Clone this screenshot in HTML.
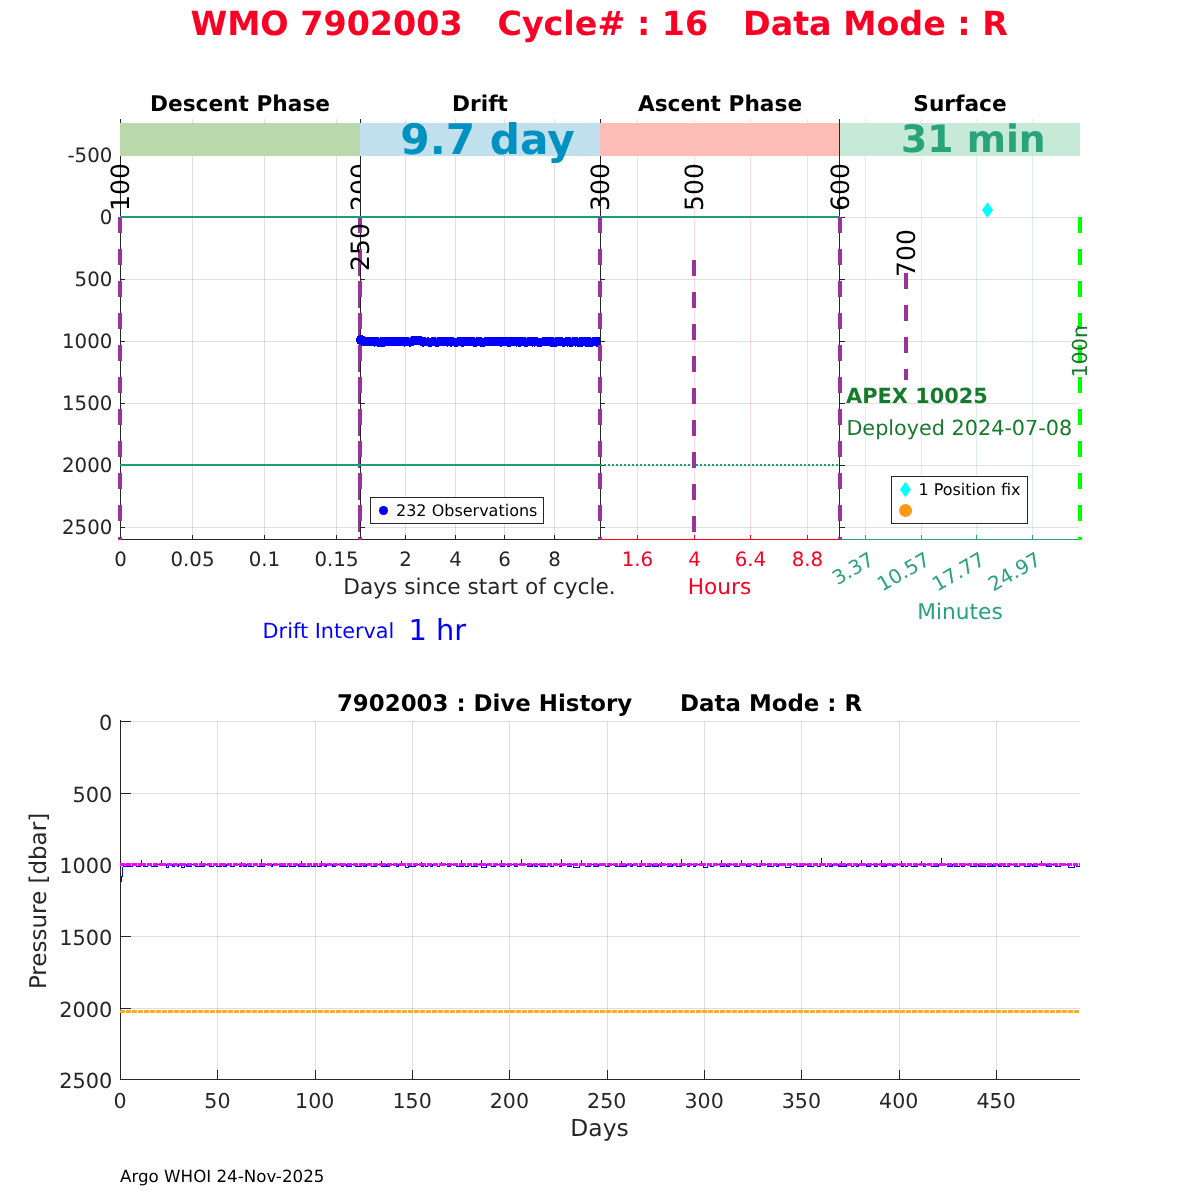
<!DOCTYPE html>
<html lang="en"><head><meta charset="utf-8"><title>WMO 7902003 Cycle 16</title>
<style>
html,body{margin:0;padding:0;background:#fff;overflow:hidden;}
svg{display:block;font-family:"DejaVu Sans", "Liberation Sans", sans-serif;}
text{white-space:pre;}
</style></head><body>
<svg width="1200" height="1200" viewBox="0 0 1200 1200" shape-rendering="crispEdges" text-rendering="geometricPrecision">
<rect width="1200" height="1200" fill="#fff"/>
<text x="599.2" y="34.5" font-size="33.33" fill="#f90024" text-anchor="middle" font-weight="bold" >WMO 7902003   Cycle# : 16   Data Mode : R</text>
<line x1="120.5" y1="119" x2="120.5" y2="540" stroke="rgba(38,38,38,0.15)" stroke-width="1" />
<line x1="192.5" y1="119" x2="192.5" y2="540" stroke="rgba(38,38,38,0.15)" stroke-width="1" />
<line x1="264.5" y1="119" x2="264.5" y2="540" stroke="rgba(38,38,38,0.15)" stroke-width="1" />
<line x1="336.5" y1="119" x2="336.5" y2="540" stroke="rgba(38,38,38,0.15)" stroke-width="1" />
<line x1="120" y1="155.5" x2="359" y2="155.5" stroke="rgba(38,38,38,0.15)" stroke-width="1" />
<line x1="120" y1="217.5" x2="359" y2="217.5" stroke="rgba(38,38,38,0.15)" stroke-width="1" />
<line x1="120" y1="279.5" x2="359" y2="279.5" stroke="rgba(38,38,38,0.15)" stroke-width="1" />
<line x1="120" y1="341.5" x2="359" y2="341.5" stroke="rgba(38,38,38,0.15)" stroke-width="1" />
<line x1="120" y1="403.5" x2="359" y2="403.5" stroke="rgba(38,38,38,0.15)" stroke-width="1" />
<line x1="120" y1="465.5" x2="359" y2="465.5" stroke="rgba(38,38,38,0.15)" stroke-width="1" />
<line x1="120" y1="527.5" x2="359" y2="527.5" stroke="rgba(38,38,38,0.15)" stroke-width="1" />
<line x1="405.5" y1="119" x2="405.5" y2="540" stroke="rgba(38,38,38,0.15)" stroke-width="1" />
<line x1="455.5" y1="119" x2="455.5" y2="540" stroke="rgba(38,38,38,0.15)" stroke-width="1" />
<line x1="504.5" y1="119" x2="504.5" y2="540" stroke="rgba(38,38,38,0.15)" stroke-width="1" />
<line x1="554.5" y1="119" x2="554.5" y2="540" stroke="rgba(38,38,38,0.15)" stroke-width="1" />
<line x1="360" y1="155.5" x2="599" y2="155.5" stroke="rgba(38,38,38,0.15)" stroke-width="1" />
<line x1="360" y1="217.5" x2="599" y2="217.5" stroke="rgba(38,38,38,0.15)" stroke-width="1" />
<line x1="360" y1="279.5" x2="599" y2="279.5" stroke="rgba(38,38,38,0.15)" stroke-width="1" />
<line x1="360" y1="341.5" x2="599" y2="341.5" stroke="rgba(38,38,38,0.15)" stroke-width="1" />
<line x1="360" y1="403.5" x2="599" y2="403.5" stroke="rgba(38,38,38,0.15)" stroke-width="1" />
<line x1="360" y1="465.5" x2="599" y2="465.5" stroke="rgba(38,38,38,0.15)" stroke-width="1" />
<line x1="360" y1="527.5" x2="599" y2="527.5" stroke="rgba(38,38,38,0.15)" stroke-width="1" />
<line x1="637.5" y1="119" x2="637.5" y2="540" stroke="rgba(246,0,40,0.15)" stroke-width="1" />
<line x1="694.5" y1="119" x2="694.5" y2="540" stroke="rgba(246,0,40,0.15)" stroke-width="1" />
<line x1="750.5" y1="119" x2="750.5" y2="540" stroke="rgba(246,0,40,0.15)" stroke-width="1" />
<line x1="807.5" y1="119" x2="807.5" y2="540" stroke="rgba(246,0,40,0.15)" stroke-width="1" />
<line x1="600" y1="155.5" x2="839" y2="155.5" stroke="rgba(38,38,38,0.15)" stroke-width="1" />
<line x1="600" y1="217.5" x2="839" y2="217.5" stroke="rgba(38,38,38,0.15)" stroke-width="1" />
<line x1="600" y1="279.5" x2="839" y2="279.5" stroke="rgba(38,38,38,0.15)" stroke-width="1" />
<line x1="600" y1="341.5" x2="839" y2="341.5" stroke="rgba(38,38,38,0.15)" stroke-width="1" />
<line x1="600" y1="403.5" x2="839" y2="403.5" stroke="rgba(38,38,38,0.15)" stroke-width="1" />
<line x1="600" y1="465.5" x2="839" y2="465.5" stroke="rgba(38,38,38,0.15)" stroke-width="1" />
<line x1="600" y1="527.5" x2="839" y2="527.5" stroke="rgba(38,38,38,0.15)" stroke-width="1" />
<line x1="865.5" y1="119" x2="865.5" y2="540" stroke="rgba(40,163,123,0.16)" stroke-width="1" />
<line x1="921.5" y1="119" x2="921.5" y2="540" stroke="rgba(40,163,123,0.16)" stroke-width="1" />
<line x1="976.5" y1="119" x2="976.5" y2="540" stroke="rgba(40,163,123,0.16)" stroke-width="1" />
<line x1="1032.5" y1="119" x2="1032.5" y2="540" stroke="rgba(40,163,123,0.16)" stroke-width="1" />
<line x1="840" y1="155.5" x2="1079" y2="155.5" stroke="rgba(38,38,38,0.15)" stroke-width="1" />
<line x1="840" y1="217.5" x2="1079" y2="217.5" stroke="rgba(38,38,38,0.15)" stroke-width="1" />
<line x1="840" y1="279.5" x2="1079" y2="279.5" stroke="rgba(38,38,38,0.15)" stroke-width="1" />
<line x1="840" y1="341.5" x2="1079" y2="341.5" stroke="rgba(38,38,38,0.15)" stroke-width="1" />
<line x1="840" y1="403.5" x2="1079" y2="403.5" stroke="rgba(38,38,38,0.15)" stroke-width="1" />
<line x1="840" y1="465.5" x2="1079" y2="465.5" stroke="rgba(38,38,38,0.15)" stroke-width="1" />
<line x1="840" y1="527.5" x2="1079" y2="527.5" stroke="rgba(38,38,38,0.15)" stroke-width="1" />
<rect x="120" y="123" width="240" height="33" fill="#b9d9ac" />
<rect x="360" y="123" width="240" height="33" fill="#bfe0ec" />
<rect x="600" y="123" width="240" height="33" fill="#fcbdb6" />
<rect x="840" y="123" width="240" height="33" fill="#c7e9d7" />
<line x1="120.5" y1="119" x2="120.5" y2="540" stroke="#262626" stroke-width="1" />
<line x1="120.5" y1="155.5" x2="125" y2="155.5" stroke="#262626" stroke-width="1" />
<line x1="120.5" y1="217.5" x2="125" y2="217.5" stroke="#262626" stroke-width="1" />
<line x1="120.5" y1="279.5" x2="125" y2="279.5" stroke="#262626" stroke-width="1" />
<line x1="120.5" y1="341.5" x2="125" y2="341.5" stroke="#262626" stroke-width="1" />
<line x1="120.5" y1="403.5" x2="125" y2="403.5" stroke="#262626" stroke-width="1" />
<line x1="120.5" y1="465.5" x2="125" y2="465.5" stroke="#262626" stroke-width="1" />
<line x1="120.5" y1="527.5" x2="125" y2="527.5" stroke="#262626" stroke-width="1" />
<line x1="120" y1="539.5" x2="360" y2="539.5" stroke="#262626" stroke-width="1" />
<line x1="120.5" y1="539.5" x2="120.5" y2="534.5" stroke="#262626" stroke-width="1" />
<line x1="192.5" y1="539.5" x2="192.5" y2="534.5" stroke="#262626" stroke-width="1" />
<line x1="264.5" y1="539.5" x2="264.5" y2="534.5" stroke="#262626" stroke-width="1" />
<line x1="336.5" y1="539.5" x2="336.5" y2="534.5" stroke="#262626" stroke-width="1" />
<line x1="360.5" y1="119" x2="360.5" y2="540" stroke="#262626" stroke-width="1" />
<line x1="360.5" y1="155.5" x2="365" y2="155.5" stroke="#262626" stroke-width="1" />
<line x1="360.5" y1="217.5" x2="365" y2="217.5" stroke="#262626" stroke-width="1" />
<line x1="360.5" y1="279.5" x2="365" y2="279.5" stroke="#262626" stroke-width="1" />
<line x1="360.5" y1="341.5" x2="365" y2="341.5" stroke="#262626" stroke-width="1" />
<line x1="360.5" y1="403.5" x2="365" y2="403.5" stroke="#262626" stroke-width="1" />
<line x1="360.5" y1="465.5" x2="365" y2="465.5" stroke="#262626" stroke-width="1" />
<line x1="360.5" y1="527.5" x2="365" y2="527.5" stroke="#262626" stroke-width="1" />
<line x1="360" y1="539.5" x2="600" y2="539.5" stroke="#262626" stroke-width="1" />
<line x1="405.5" y1="539.5" x2="405.5" y2="534.5" stroke="#262626" stroke-width="1" />
<line x1="455.5" y1="539.5" x2="455.5" y2="534.5" stroke="#262626" stroke-width="1" />
<line x1="504.5" y1="539.5" x2="504.5" y2="534.5" stroke="#262626" stroke-width="1" />
<line x1="554.5" y1="539.5" x2="554.5" y2="534.5" stroke="#262626" stroke-width="1" />
<line x1="600.5" y1="119" x2="600.5" y2="540" stroke="#262626" stroke-width="1" />
<line x1="600.5" y1="155.5" x2="605" y2="155.5" stroke="#262626" stroke-width="1" />
<line x1="600.5" y1="217.5" x2="605" y2="217.5" stroke="#262626" stroke-width="1" />
<line x1="600.5" y1="279.5" x2="605" y2="279.5" stroke="#262626" stroke-width="1" />
<line x1="600.5" y1="341.5" x2="605" y2="341.5" stroke="#262626" stroke-width="1" />
<line x1="600.5" y1="403.5" x2="605" y2="403.5" stroke="#262626" stroke-width="1" />
<line x1="600.5" y1="465.5" x2="605" y2="465.5" stroke="#262626" stroke-width="1" />
<line x1="600.5" y1="527.5" x2="605" y2="527.5" stroke="#262626" stroke-width="1" />
<line x1="600" y1="539.5" x2="840" y2="539.5" stroke="#f90024" stroke-width="1" />
<line x1="637.5" y1="539.5" x2="637.5" y2="534.5" stroke="#f90024" stroke-width="1" />
<line x1="694.5" y1="539.5" x2="694.5" y2="534.5" stroke="#f90024" stroke-width="1" />
<line x1="750.5" y1="539.5" x2="750.5" y2="534.5" stroke="#f90024" stroke-width="1" />
<line x1="807.5" y1="539.5" x2="807.5" y2="534.5" stroke="#f90024" stroke-width="1" />
<line x1="839.5" y1="119" x2="839.5" y2="540" stroke="#262626" stroke-width="1" />
<line x1="839.5" y1="155.5" x2="845" y2="155.5" stroke="#262626" stroke-width="1" />
<line x1="839.5" y1="217.5" x2="845" y2="217.5" stroke="#262626" stroke-width="1" />
<line x1="839.5" y1="279.5" x2="845" y2="279.5" stroke="#262626" stroke-width="1" />
<line x1="839.5" y1="341.5" x2="845" y2="341.5" stroke="#262626" stroke-width="1" />
<line x1="839.5" y1="403.5" x2="845" y2="403.5" stroke="#262626" stroke-width="1" />
<line x1="839.5" y1="465.5" x2="845" y2="465.5" stroke="#262626" stroke-width="1" />
<line x1="839.5" y1="527.5" x2="845" y2="527.5" stroke="#262626" stroke-width="1" />
<line x1="840" y1="539.5" x2="1080" y2="539.5" stroke="#28a37b" stroke-width="1" />
<line x1="865.5" y1="539.5" x2="865.5" y2="534.5" stroke="#28a37b" stroke-width="1" />
<line x1="921.5" y1="539.5" x2="921.5" y2="534.5" stroke="#28a37b" stroke-width="1" />
<line x1="976.5" y1="539.5" x2="976.5" y2="534.5" stroke="#28a37b" stroke-width="1" />
<line x1="1032.5" y1="539.5" x2="1032.5" y2="534.5" stroke="#28a37b" stroke-width="1" />
<rect x="120" y="123" width="240" height="33" fill="#b9d9ac" />
<rect x="360" y="123" width="240" height="33" fill="#bfe0ec" />
<rect x="600" y="123" width="240" height="33" fill="#fcbdb6" />
<rect x="840" y="123" width="240" height="33" fill="#c7e9d7" />
<line x1="839.5" y1="119" x2="839.5" y2="156" stroke="#262626" stroke-width="1" />
<text x="240" y="111" font-size="21.7" fill="#000" text-anchor="middle" font-weight="bold" >Descent Phase</text>
<text x="480" y="111" font-size="21.7" fill="#000" text-anchor="middle" font-weight="bold" >Drift</text>
<text x="720" y="111" font-size="21.7" fill="#000" text-anchor="middle" font-weight="bold" >Ascent Phase</text>
<text x="960" y="111" font-size="21.7" fill="#000" text-anchor="middle" font-weight="bold" >Surface</text>
<text x="487.5" y="154.3" font-size="42.2" fill="#0091c0" text-anchor="middle" font-weight="bold" >9.7 day</text>
<text x="973.4" y="152.3" font-size="37.7" fill="#28a37b" text-anchor="middle" font-weight="bold" >31 min</text>
<text x="112.3" y="161.5" font-size="19.75" fill="#262626" text-anchor="end" >-500</text>
<text x="112.3" y="223.5" font-size="19.75" fill="#262626" text-anchor="end" >0</text>
<text x="112.3" y="285.5" font-size="19.75" fill="#262626" text-anchor="end" >500</text>
<text x="112.3" y="347.5" font-size="19.75" fill="#262626" text-anchor="end" >1000</text>
<text x="112.3" y="409.5" font-size="19.75" fill="#262626" text-anchor="end" >1500</text>
<text x="112.3" y="471.5" font-size="19.75" fill="#262626" text-anchor="end" >2000</text>
<text x="112.3" y="533.5" font-size="19.75" fill="#262626" text-anchor="end" >2500</text>
<text x="120.5" y="566" font-size="19.75" fill="#262626" text-anchor="middle" >0</text>
<text x="192.5" y="566" font-size="19.75" fill="#262626" text-anchor="middle" >0.05</text>
<text x="264.5" y="566" font-size="19.75" fill="#262626" text-anchor="middle" >0.1</text>
<text x="336.5" y="566" font-size="19.75" fill="#262626" text-anchor="middle" >0.15</text>
<text x="405.5" y="566" font-size="19.75" fill="#262626" text-anchor="middle" >2</text>
<text x="455.5" y="566" font-size="19.75" fill="#262626" text-anchor="middle" >4</text>
<text x="504.5" y="566" font-size="19.75" fill="#262626" text-anchor="middle" >6</text>
<text x="554.5" y="566" font-size="19.75" fill="#262626" text-anchor="middle" >8</text>
<text x="637.5" y="566" font-size="19.75" fill="#f90024" text-anchor="middle" >1.6</text>
<text x="694.5" y="566" font-size="19.75" fill="#f90024" text-anchor="middle" >4</text>
<text x="750.5" y="566" font-size="19.75" fill="#f90024" text-anchor="middle" >6.4</text>
<text x="807.5" y="566" font-size="19.75" fill="#f90024" text-anchor="middle" >8.8</text>
<text transform="translate(875.3 563.5) rotate(-30)" font-size="19.75" fill="#28a37b" text-anchor="end" >3.37</text>
<text transform="translate(931.3 563.5) rotate(-30)" font-size="19.75" fill="#28a37b" text-anchor="end" >10.57</text>
<text transform="translate(986.3 563.5) rotate(-30)" font-size="19.75" fill="#28a37b" text-anchor="end" >17.77</text>
<text transform="translate(1042.3 563.5) rotate(-30)" font-size="19.75" fill="#28a37b" text-anchor="end" >24.97</text>
<text x="479.5" y="594" font-size="21.7" fill="#262626" text-anchor="middle" >Days since start of cycle.</text>
<text x="719.5" y="594" font-size="21.7" fill="#f90024" text-anchor="middle" >Hours</text>
<text x="960" y="619" font-size="21.7" fill="#28a37b" text-anchor="middle" >Minutes</text>
<text x="262.6" y="637.7" font-size="20.8" fill="#0000ff" text-anchor="start" >Drift Interval</text>
<text x="408.4" y="640.3" font-size="28.9" fill="#0000ff" text-anchor="start" >1 hr</text>
<rect x="118" y="217" width="4" height="16" fill="#993399" />
<rect x="118" y="249" width="4" height="16" fill="#993399" />
<rect x="118" y="281" width="4" height="16" fill="#993399" />
<rect x="118" y="313" width="4" height="16" fill="#993399" />
<rect x="118" y="345" width="4" height="16" fill="#993399" />
<rect x="118" y="377" width="4" height="16" fill="#993399" />
<rect x="118" y="409" width="4" height="16" fill="#993399" />
<rect x="118" y="441" width="4" height="16" fill="#993399" />
<rect x="118" y="473" width="4" height="16" fill="#993399" />
<rect x="118" y="505" width="4" height="16" fill="#993399" />
<rect x="118" y="537" width="4" height="3" fill="#993399" />
<rect x="358" y="217" width="4" height="16" fill="#993399" />
<rect x="358" y="249" width="4" height="16" fill="#993399" />
<rect x="358" y="281" width="4" height="16" fill="#993399" />
<rect x="358" y="313" width="4" height="16" fill="#993399" />
<rect x="358" y="345" width="4" height="16" fill="#993399" />
<rect x="358" y="377" width="4" height="16" fill="#993399" />
<rect x="358" y="409" width="4" height="16" fill="#993399" />
<rect x="358" y="441" width="4" height="16" fill="#993399" />
<rect x="358" y="473" width="4" height="16" fill="#993399" />
<rect x="358" y="505" width="4" height="16" fill="#993399" />
<rect x="358" y="537" width="4" height="3" fill="#993399" />
<rect x="358" y="259.5" width="2" height="16" fill="#993399" />
<rect x="358" y="291.5" width="2" height="16" fill="#993399" />
<rect x="358" y="323.5" width="2" height="16" fill="#993399" />
<rect x="358" y="355.5" width="2" height="16" fill="#993399" />
<rect x="358" y="387.5" width="2" height="16" fill="#993399" />
<rect x="358" y="419.5" width="2" height="16" fill="#993399" />
<rect x="358" y="451.5" width="2" height="16" fill="#993399" />
<rect x="358" y="483.5" width="2" height="16" fill="#993399" />
<rect x="358" y="515.5" width="2" height="16" fill="#993399" />
<line x1="120" y1="217" x2="840" y2="217" stroke="#1b9e77" stroke-width="2" />
<line x1="120" y1="465" x2="602" y2="465" stroke="#1b9e77" stroke-width="2" />
<line x1="604" y1="465" x2="840" y2="465" stroke="#1b9e77" stroke-width="2" stroke-dasharray="2 2"/>
<clipPath id="cdrift"><rect x="340" y="300" width="260" height="80"/></clipPath>
<g fill="#0000ff" clip-path="url(#cdrift)">
<circle cx="361.0" cy="340.0" r="5"/>
<circle cx="362.0" cy="341.3" r="4.4"/>
<circle cx="363.1" cy="342.0" r="4.4"/>
<circle cx="364.1" cy="341.2" r="4.4"/>
<circle cx="365.1" cy="341.9" r="4.4"/>
<circle cx="366.2" cy="341.6" r="4.4"/>
<circle cx="367.2" cy="341.2" r="4.4"/>
<circle cx="368.3" cy="341.8" r="4.4"/>
<circle cx="369.3" cy="341.2" r="4.4"/>
<circle cx="370.3" cy="341.7" r="4.4"/>
<circle cx="371.4" cy="341.2" r="4.4"/>
<circle cx="372.4" cy="341.2" r="4.4"/>
<circle cx="373.4" cy="341.7" r="4.4"/>
<circle cx="374.5" cy="342.3" r="4.4"/>
<circle cx="375.5" cy="341.3" r="4.4"/>
<circle cx="376.6" cy="341.4" r="4.4"/>
<circle cx="377.6" cy="342.0" r="4.4"/>
<circle cx="378.6" cy="342.4" r="4.4"/>
<circle cx="379.7" cy="341.9" r="4.4"/>
<circle cx="380.7" cy="341.7" r="4.4"/>
<circle cx="381.7" cy="342.5" r="4.4"/>
<circle cx="382.8" cy="341.2" r="4.4"/>
<circle cx="383.8" cy="342.3" r="4.4"/>
<circle cx="384.8" cy="341.5" r="4.4"/>
<circle cx="385.9" cy="341.3" r="4.4"/>
<circle cx="386.9" cy="341.3" r="4.4"/>
<circle cx="388.0" cy="341.5" r="4.4"/>
<circle cx="389.0" cy="342.2" r="4.4"/>
<circle cx="390.0" cy="341.4" r="4.4"/>
<circle cx="391.1" cy="341.9" r="4.4"/>
<circle cx="392.1" cy="342.0" r="4.4"/>
<circle cx="393.1" cy="341.6" r="4.4"/>
<circle cx="394.2" cy="341.9" r="4.4"/>
<circle cx="395.2" cy="341.2" r="4.4"/>
<circle cx="396.3" cy="341.2" r="4.4"/>
<circle cx="397.3" cy="341.4" r="4.4"/>
<circle cx="398.3" cy="342.1" r="4.4"/>
<circle cx="399.4" cy="341.7" r="4.4"/>
<circle cx="400.4" cy="341.5" r="4.4"/>
<circle cx="401.4" cy="341.9" r="4.4"/>
<circle cx="402.5" cy="341.7" r="4.4"/>
<circle cx="403.5" cy="341.5" r="4.4"/>
<circle cx="404.5" cy="342.2" r="4.4"/>
<circle cx="405.6" cy="342.1" r="4.4"/>
<circle cx="406.6" cy="341.4" r="4.4"/>
<circle cx="407.7" cy="341.9" r="4.4"/>
<circle cx="408.7" cy="341.8" r="4.4"/>
<circle cx="409.7" cy="342.3" r="4.4"/>
<circle cx="410.8" cy="342.1" r="4.4"/>
<circle cx="411.8" cy="341.5" r="4.4"/>
<circle cx="412.8" cy="341.2" r="4.4"/>
<circle cx="413.9" cy="340.0" r="4.4"/>
<circle cx="414.9" cy="340.4" r="4.4"/>
<circle cx="416.0" cy="340.9" r="4.4"/>
<circle cx="417.0" cy="340.0" r="4.4"/>
<circle cx="418.0" cy="340.5" r="4.4"/>
<circle cx="419.1" cy="339.9" r="4.4"/>
<circle cx="420.1" cy="340.7" r="4.4"/>
<circle cx="421.1" cy="340.9" r="4.4"/>
<circle cx="422.2" cy="341.9" r="4.4"/>
<circle cx="423.2" cy="342.3" r="4.4"/>
<circle cx="424.2" cy="341.5" r="4.4"/>
<circle cx="425.3" cy="342.1" r="4.4"/>
<circle cx="426.3" cy="341.9" r="4.4"/>
<circle cx="427.4" cy="341.9" r="4.4"/>
<circle cx="428.4" cy="341.7" r="4.4"/>
<circle cx="429.4" cy="342.3" r="4.4"/>
<circle cx="430.5" cy="342.4" r="4.4"/>
<circle cx="431.5" cy="341.8" r="4.4"/>
<circle cx="432.5" cy="342.0" r="4.4"/>
<circle cx="433.6" cy="341.2" r="4.4"/>
<circle cx="434.6" cy="342.1" r="4.4"/>
<circle cx="435.6" cy="342.0" r="4.4"/>
<circle cx="436.7" cy="342.5" r="4.4"/>
<circle cx="437.7" cy="342.3" r="4.4"/>
<circle cx="438.8" cy="341.5" r="4.4"/>
<circle cx="439.8" cy="341.6" r="4.4"/>
<circle cx="440.8" cy="342.0" r="4.4"/>
<circle cx="441.9" cy="341.1" r="4.4"/>
<circle cx="442.9" cy="341.7" r="4.4"/>
<circle cx="443.9" cy="341.3" r="4.4"/>
<circle cx="445.0" cy="341.3" r="4.4"/>
<circle cx="446.0" cy="341.2" r="4.4"/>
<circle cx="447.1" cy="342.2" r="4.4"/>
<circle cx="448.1" cy="341.3" r="4.4"/>
<circle cx="449.1" cy="341.4" r="4.4"/>
<circle cx="450.2" cy="341.6" r="4.4"/>
<circle cx="451.2" cy="342.3" r="4.4"/>
<circle cx="452.2" cy="341.2" r="4.4"/>
<circle cx="453.3" cy="341.7" r="4.4"/>
<circle cx="454.3" cy="341.9" r="4.4"/>
<circle cx="455.3" cy="342.3" r="4.4"/>
<circle cx="456.4" cy="342.2" r="4.4"/>
<circle cx="457.4" cy="342.3" r="4.4"/>
<circle cx="458.5" cy="341.5" r="4.4"/>
<circle cx="459.5" cy="341.7" r="4.4"/>
<circle cx="460.5" cy="341.6" r="4.4"/>
<circle cx="461.6" cy="342.3" r="4.4"/>
<circle cx="462.6" cy="342.4" r="4.4"/>
<circle cx="463.6" cy="341.3" r="4.4"/>
<circle cx="464.7" cy="341.3" r="4.4"/>
<circle cx="465.7" cy="341.4" r="4.4"/>
<circle cx="466.8" cy="341.4" r="4.4"/>
<circle cx="467.8" cy="341.8" r="4.4"/>
<circle cx="468.8" cy="341.9" r="4.4"/>
<circle cx="469.9" cy="341.5" r="4.4"/>
<circle cx="470.9" cy="341.1" r="4.4"/>
<circle cx="471.9" cy="341.7" r="4.4"/>
<circle cx="473.0" cy="341.6" r="4.4"/>
<circle cx="474.0" cy="341.9" r="4.4"/>
<circle cx="475.0" cy="342.4" r="4.4"/>
<circle cx="476.1" cy="342.1" r="4.4"/>
<circle cx="477.1" cy="341.8" r="4.4"/>
<circle cx="478.2" cy="342.0" r="4.4"/>
<circle cx="479.2" cy="342.0" r="4.4"/>
<circle cx="480.2" cy="341.2" r="4.4"/>
<circle cx="481.3" cy="342.4" r="4.4"/>
<circle cx="482.3" cy="342.2" r="4.4"/>
<circle cx="483.3" cy="342.3" r="4.4"/>
<circle cx="484.4" cy="342.2" r="4.4"/>
<circle cx="485.4" cy="341.6" r="4.4"/>
<circle cx="486.5" cy="341.7" r="4.4"/>
<circle cx="487.5" cy="341.2" r="4.4"/>
<circle cx="488.5" cy="342.0" r="4.4"/>
<circle cx="489.6" cy="341.2" r="4.4"/>
<circle cx="490.6" cy="341.2" r="4.4"/>
<circle cx="491.6" cy="341.4" r="4.4"/>
<circle cx="492.7" cy="341.3" r="4.4"/>
<circle cx="493.7" cy="341.6" r="4.4"/>
<circle cx="494.7" cy="341.2" r="4.4"/>
<circle cx="495.8" cy="341.1" r="4.4"/>
<circle cx="496.8" cy="341.3" r="4.4"/>
<circle cx="497.9" cy="341.2" r="4.4"/>
<circle cx="498.9" cy="341.6" r="4.4"/>
<circle cx="499.9" cy="341.1" r="4.4"/>
<circle cx="501.0" cy="342.3" r="4.4"/>
<circle cx="502.0" cy="342.0" r="4.4"/>
<circle cx="503.0" cy="341.3" r="4.4"/>
<circle cx="504.1" cy="341.5" r="4.4"/>
<circle cx="505.1" cy="341.6" r="4.4"/>
<circle cx="506.2" cy="341.6" r="4.4"/>
<circle cx="507.2" cy="341.3" r="4.4"/>
<circle cx="508.2" cy="342.3" r="4.4"/>
<circle cx="509.3" cy="342.5" r="4.4"/>
<circle cx="510.3" cy="341.8" r="4.4"/>
<circle cx="511.3" cy="341.8" r="4.4"/>
<circle cx="512.4" cy="341.2" r="4.4"/>
<circle cx="513.4" cy="341.2" r="4.4"/>
<circle cx="514.4" cy="341.6" r="4.4"/>
<circle cx="515.5" cy="341.5" r="4.4"/>
<circle cx="516.5" cy="342.3" r="4.4"/>
<circle cx="517.6" cy="341.3" r="4.4"/>
<circle cx="518.6" cy="341.1" r="4.4"/>
<circle cx="519.6" cy="342.4" r="4.4"/>
<circle cx="520.7" cy="341.8" r="4.4"/>
<circle cx="521.7" cy="341.3" r="4.4"/>
<circle cx="522.7" cy="341.9" r="4.4"/>
<circle cx="523.8" cy="341.1" r="4.4"/>
<circle cx="524.8" cy="341.8" r="4.4"/>
<circle cx="525.9" cy="342.5" r="4.4"/>
<circle cx="526.9" cy="342.3" r="4.4"/>
<circle cx="527.9" cy="342.1" r="4.4"/>
<circle cx="529.0" cy="341.5" r="4.4"/>
<circle cx="530.0" cy="341.6" r="4.4"/>
<circle cx="531.0" cy="341.3" r="4.4"/>
<circle cx="532.1" cy="342.2" r="4.4"/>
<circle cx="533.1" cy="341.8" r="4.4"/>
<circle cx="534.1" cy="342.2" r="4.4"/>
<circle cx="535.2" cy="341.6" r="4.4"/>
<circle cx="536.2" cy="341.4" r="4.4"/>
<circle cx="537.3" cy="342.2" r="4.4"/>
<circle cx="538.3" cy="342.5" r="4.4"/>
<circle cx="539.3" cy="342.3" r="4.4"/>
<circle cx="540.4" cy="342.2" r="4.4"/>
<circle cx="541.4" cy="342.2" r="4.4"/>
<circle cx="542.4" cy="342.1" r="4.4"/>
<circle cx="543.5" cy="341.4" r="4.4"/>
<circle cx="544.5" cy="341.8" r="4.4"/>
<circle cx="545.5" cy="341.6" r="4.4"/>
<circle cx="546.6" cy="341.1" r="4.4"/>
<circle cx="547.6" cy="341.1" r="4.4"/>
<circle cx="548.7" cy="341.5" r="4.4"/>
<circle cx="549.7" cy="341.5" r="4.4"/>
<circle cx="550.7" cy="342.1" r="4.4"/>
<circle cx="551.8" cy="342.4" r="4.4"/>
<circle cx="552.8" cy="341.7" r="4.4"/>
<circle cx="553.8" cy="342.4" r="4.4"/>
<circle cx="554.9" cy="342.5" r="4.4"/>
<circle cx="555.9" cy="342.4" r="4.4"/>
<circle cx="557.0" cy="341.6" r="4.4"/>
<circle cx="558.0" cy="341.4" r="4.4"/>
<circle cx="559.0" cy="341.4" r="4.4"/>
<circle cx="560.1" cy="341.4" r="4.4"/>
<circle cx="561.1" cy="341.4" r="4.4"/>
<circle cx="562.1" cy="342.0" r="4.4"/>
<circle cx="563.2" cy="342.4" r="4.4"/>
<circle cx="564.2" cy="342.3" r="4.4"/>
<circle cx="565.2" cy="341.8" r="4.4"/>
<circle cx="566.3" cy="342.0" r="4.4"/>
<circle cx="567.3" cy="342.2" r="4.4"/>
<circle cx="568.4" cy="341.2" r="4.4"/>
<circle cx="569.4" cy="342.0" r="4.4"/>
<circle cx="570.4" cy="342.4" r="4.4"/>
<circle cx="571.5" cy="342.2" r="4.4"/>
<circle cx="572.5" cy="342.2" r="4.4"/>
<circle cx="573.5" cy="341.8" r="4.4"/>
<circle cx="574.6" cy="341.3" r="4.4"/>
<circle cx="575.6" cy="342.2" r="4.4"/>
<circle cx="576.7" cy="341.6" r="4.4"/>
<circle cx="577.7" cy="342.2" r="4.4"/>
<circle cx="578.7" cy="342.5" r="4.4"/>
<circle cx="579.8" cy="341.7" r="4.4"/>
<circle cx="580.8" cy="341.7" r="4.4"/>
<circle cx="581.8" cy="342.4" r="4.4"/>
<circle cx="582.9" cy="342.1" r="4.4"/>
<circle cx="583.9" cy="341.3" r="4.4"/>
<circle cx="584.9" cy="341.3" r="4.4"/>
<circle cx="586.0" cy="341.3" r="4.4"/>
<circle cx="587.0" cy="342.4" r="4.4"/>
<circle cx="588.1" cy="342.2" r="4.4"/>
<circle cx="589.1" cy="341.3" r="4.4"/>
<circle cx="590.1" cy="342.3" r="4.4"/>
<circle cx="591.2" cy="342.5" r="4.4"/>
<circle cx="592.2" cy="342.0" r="4.4"/>
<circle cx="593.2" cy="341.6" r="4.4"/>
<circle cx="594.3" cy="341.9" r="4.4"/>
<circle cx="595.3" cy="341.3" r="4.4"/>
<circle cx="596.4" cy="341.1" r="4.4"/>
<circle cx="597.4" cy="342.5" r="4.4"/>
<circle cx="598.4" cy="342.0" r="4.4"/>
<circle cx="599.5" cy="341.8" r="4.4"/>
<circle cx="600.5" cy="342.4" r="4.4"/>
</g>
<rect x="598" y="217" width="4" height="16" fill="#993399" />
<rect x="598" y="249" width="4" height="16" fill="#993399" />
<rect x="598" y="281" width="4" height="16" fill="#993399" />
<rect x="598" y="313" width="4" height="16" fill="#993399" />
<rect x="598" y="345" width="4" height="16" fill="#993399" />
<rect x="598" y="377" width="4" height="16" fill="#993399" />
<rect x="598" y="409" width="4" height="16" fill="#993399" />
<rect x="598" y="441" width="4" height="16" fill="#993399" />
<rect x="598" y="473" width="4" height="16" fill="#993399" />
<rect x="598" y="505" width="4" height="16" fill="#993399" />
<rect x="598" y="537" width="4" height="3" fill="#993399" />
<rect x="838" y="217" width="4" height="16" fill="#993399" />
<rect x="838" y="249" width="4" height="16" fill="#993399" />
<rect x="838" y="281" width="4" height="16" fill="#993399" />
<rect x="838" y="313" width="4" height="16" fill="#993399" />
<rect x="838" y="345" width="4" height="16" fill="#993399" />
<rect x="838" y="377" width="4" height="16" fill="#993399" />
<rect x="838" y="409" width="4" height="16" fill="#993399" />
<rect x="838" y="441" width="4" height="16" fill="#993399" />
<rect x="838" y="473" width="4" height="16" fill="#993399" />
<rect x="838" y="505" width="4" height="16" fill="#993399" />
<rect x="838" y="537" width="4" height="3" fill="#993399" />
<rect x="692" y="260" width="4" height="16" fill="#993399" />
<rect x="692" y="292" width="4" height="16" fill="#993399" />
<rect x="692" y="324" width="4" height="16" fill="#993399" />
<rect x="692" y="356" width="4" height="16" fill="#993399" />
<rect x="692" y="388" width="4" height="16" fill="#993399" />
<rect x="692" y="420" width="4" height="16" fill="#993399" />
<rect x="692" y="452" width="4" height="16" fill="#993399" />
<rect x="692" y="484" width="4" height="16" fill="#993399" />
<rect x="692" y="516" width="4" height="16" fill="#993399" />
<rect x="904" y="273" width="4" height="16" fill="#993399" />
<rect x="904" y="305" width="4" height="16" fill="#993399" />
<rect x="904" y="337" width="4" height="16" fill="#993399" />
<rect x="904" y="369" width="4" height="11" fill="#993399" />
<rect x="1078" y="217" width="4" height="16" fill="#00ff00" />
<rect x="1078" y="249" width="4" height="16" fill="#00ff00" />
<rect x="1078" y="281" width="4" height="16" fill="#00ff00" />
<rect x="1078" y="313" width="4" height="16" fill="#00ff00" />
<rect x="1078" y="345" width="4" height="16" fill="#00ff00" />
<rect x="1078" y="377" width="4" height="16" fill="#00ff00" />
<rect x="1078" y="409" width="4" height="16" fill="#00ff00" />
<rect x="1078" y="441" width="4" height="16" fill="#00ff00" />
<rect x="1078" y="473" width="4" height="16" fill="#00ff00" />
<rect x="1078" y="505" width="4" height="16" fill="#00ff00" />
<rect x="1078" y="537" width="4" height="3" fill="#00ff00" />
<text transform="translate(129 211) rotate(-90)" font-size="25.2" fill="#000" text-anchor="start" >100</text>
<clipPath id="c200"><rect x="300" y="150" width="60" height="80"/></clipPath>
<g clip-path="url(#c200)">
<text transform="translate(369 211) rotate(-90)" font-size="25.2" fill="#000" text-anchor="start" >200</text>
</g>
<text transform="translate(369 271) rotate(-90)" font-size="25.2" fill="#000" text-anchor="start" >250</text>
<text transform="translate(609 211) rotate(-90)" font-size="25.2" fill="#000" text-anchor="start" >300</text>
<text transform="translate(703 211) rotate(-90)" font-size="25.2" fill="#000" text-anchor="start" >500</text>
<text transform="translate(849 211) rotate(-90)" font-size="25.2" fill="#000" text-anchor="start" >600</text>
<text transform="translate(915 277) rotate(-90)" font-size="25.2" fill="#000" text-anchor="start" >700</text>
<clipPath id="c100m"><rect x="1060" y="326" width="40" height="80"/></clipPath>
<g clip-path="url(#c100m)">
<text transform="translate(1087.3 377.6) rotate(-90)" font-size="20.7" fill="#167a2c" text-anchor="start" >100m</text>
</g>
<rect x="370.5" y="497.5" width="173" height="26" fill="#fff" stroke="#262626" stroke-width="1"/>
<circle cx="383.5" cy="510.5" r="4.5" fill="#0000ff" shape-rendering="geometricPrecision"/>
<text x="396" y="516" font-size="16" fill="#000" text-anchor="start" >232 Observations</text>
<polygon points="987.5,202.2 993.0,210 987.5,217.8 982.0,210" fill="#00ffff" shape-rendering="geometricPrecision"/>
<text x="846.0" y="402.9" font-size="20.9" fill="#167a2c" text-anchor="start" font-weight="bold" >APEX 10025</text>
<text x="846.4" y="434.6" font-size="20.75" fill="#167a2c" text-anchor="start" >Deployed 2024-07-08</text>
<rect x="891.5" y="476.5" width="136" height="47" fill="#fff" stroke="#262626" stroke-width="1"/>
<polygon points="905.5,481.7 911.0,489.5 905.5,497.3 900.0,489.5" fill="#00ffff" shape-rendering="geometricPrecision"/>
<circle cx="905.5" cy="510.5" r="6.5" fill="#ff9814" shape-rendering="geometricPrecision"/>
<text x="918.4" y="495" font-size="16" fill="#000" text-anchor="start" >1 Position fix</text>
<line x1="120.5" y1="721.2" x2="120.5" y2="1079.5" stroke="rgba(38,38,38,0.15)" stroke-width="1" />
<line x1="217.83333333333331" y1="721.2" x2="217.83333333333331" y2="1079.5" stroke="rgba(38,38,38,0.15)" stroke-width="1" />
<line x1="315.16666666666663" y1="721.2" x2="315.16666666666663" y2="1079.5" stroke="rgba(38,38,38,0.15)" stroke-width="1" />
<line x1="412.5" y1="721.2" x2="412.5" y2="1079.5" stroke="rgba(38,38,38,0.15)" stroke-width="1" />
<line x1="509.8333333333333" y1="721.2" x2="509.8333333333333" y2="1079.5" stroke="rgba(38,38,38,0.15)" stroke-width="1" />
<line x1="607.1666666666667" y1="721.2" x2="607.1666666666667" y2="1079.5" stroke="rgba(38,38,38,0.15)" stroke-width="1" />
<line x1="704.5" y1="721.2" x2="704.5" y2="1079.5" stroke="rgba(38,38,38,0.15)" stroke-width="1" />
<line x1="801.8333333333334" y1="721.2" x2="801.8333333333334" y2="1079.5" stroke="rgba(38,38,38,0.15)" stroke-width="1" />
<line x1="899.1666666666666" y1="721.2" x2="899.1666666666666" y2="1079.5" stroke="rgba(38,38,38,0.15)" stroke-width="1" />
<line x1="996.5" y1="721.2" x2="996.5" y2="1079.5" stroke="rgba(38,38,38,0.15)" stroke-width="1" />
<line x1="120" y1="721.5" x2="1080" y2="721.5" stroke="rgba(38,38,38,0.15)" stroke-width="1" />
<line x1="120" y1="793.5" x2="1080" y2="793.5" stroke="rgba(38,38,38,0.15)" stroke-width="1" />
<line x1="120" y1="864.5" x2="1080" y2="864.5" stroke="rgba(38,38,38,0.15)" stroke-width="1" />
<line x1="120" y1="936.5" x2="1080" y2="936.5" stroke="rgba(38,38,38,0.15)" stroke-width="1" />
<line x1="120" y1="1008.5" x2="1080" y2="1008.5" stroke="rgba(38,38,38,0.15)" stroke-width="1" />
<line x1="120" y1="1079.5" x2="1080" y2="1079.5" stroke="rgba(38,38,38,0.15)" stroke-width="1" />
<line x1="120.5" y1="720" x2="120.5" y2="1080" stroke="#262626" stroke-width="1" />
<line x1="120" y1="1079.5" x2="1080" y2="1079.5" stroke="#262626" stroke-width="1" />
<line x1="120.5" y1="1079.5" x2="120.5" y2="1069.5" stroke="#262626" stroke-width="1" />
<text x="120.1" y="1108" font-size="20.6" fill="#262626" text-anchor="middle" >0</text>
<line x1="217.83333333333331" y1="1079.5" x2="217.83333333333331" y2="1069.5" stroke="#262626" stroke-width="1" />
<text x="217.4333333333333" y="1108" font-size="20.6" fill="#262626" text-anchor="middle" >50</text>
<line x1="315.16666666666663" y1="1079.5" x2="315.16666666666663" y2="1069.5" stroke="#262626" stroke-width="1" />
<text x="314.76666666666665" y="1108" font-size="20.6" fill="#262626" text-anchor="middle" >100</text>
<line x1="412.5" y1="1079.5" x2="412.5" y2="1069.5" stroke="#262626" stroke-width="1" />
<text x="412.1" y="1108" font-size="20.6" fill="#262626" text-anchor="middle" >150</text>
<line x1="509.8333333333333" y1="1079.5" x2="509.8333333333333" y2="1069.5" stroke="#262626" stroke-width="1" />
<text x="509.43333333333334" y="1108" font-size="20.6" fill="#262626" text-anchor="middle" >200</text>
<line x1="607.1666666666667" y1="1079.5" x2="607.1666666666667" y2="1069.5" stroke="#262626" stroke-width="1" />
<text x="606.7666666666668" y="1108" font-size="20.6" fill="#262626" text-anchor="middle" >250</text>
<line x1="704.5" y1="1079.5" x2="704.5" y2="1069.5" stroke="#262626" stroke-width="1" />
<text x="704.1" y="1108" font-size="20.6" fill="#262626" text-anchor="middle" >300</text>
<line x1="801.8333333333334" y1="1079.5" x2="801.8333333333334" y2="1069.5" stroke="#262626" stroke-width="1" />
<text x="801.4333333333334" y="1108" font-size="20.6" fill="#262626" text-anchor="middle" >350</text>
<line x1="899.1666666666666" y1="1079.5" x2="899.1666666666666" y2="1069.5" stroke="#262626" stroke-width="1" />
<text x="898.7666666666667" y="1108" font-size="20.6" fill="#262626" text-anchor="middle" >400</text>
<line x1="996.5" y1="1079.5" x2="996.5" y2="1069.5" stroke="#262626" stroke-width="1" />
<text x="996.1" y="1108" font-size="20.6" fill="#262626" text-anchor="middle" >450</text>
<line x1="120.5" y1="721.5" x2="130.5" y2="721.5" stroke="#262626" stroke-width="1" />
<text x="112.4" y="729.5" font-size="20.9" fill="#262626" text-anchor="end" >0</text>
<line x1="120.5" y1="793.5" x2="130.5" y2="793.5" stroke="#262626" stroke-width="1" />
<text x="112.4" y="801.5" font-size="20.9" fill="#262626" text-anchor="end" >500</text>
<line x1="120.5" y1="864.5" x2="130.5" y2="864.5" stroke="#262626" stroke-width="1" />
<text x="112.4" y="872.5" font-size="20.9" fill="#262626" text-anchor="end" >1000</text>
<line x1="120.5" y1="936.5" x2="130.5" y2="936.5" stroke="#262626" stroke-width="1" />
<text x="112.4" y="944.5" font-size="20.9" fill="#262626" text-anchor="end" >1500</text>
<line x1="120.5" y1="1008.5" x2="130.5" y2="1008.5" stroke="#262626" stroke-width="1" />
<text x="112.4" y="1016.5" font-size="20.9" fill="#262626" text-anchor="end" >2000</text>
<line x1="120.5" y1="1079.5" x2="130.5" y2="1079.5" stroke="#262626" stroke-width="1" />
<text x="112.4" y="1087.5" font-size="20.9" fill="#262626" text-anchor="end" >2500</text>
<path d="M121.5,882 L121.5,876.5 L122.5,876.5 L122.5,867.5 L123.5,866.5 L127.5,866.5 L127.5,864.5 L128.0,866.5 L132.3,866.5 L132.3,864.5 L136.1,864.5 L136.1,866.5 L140.2,866.5 L140.2,864.5 L141.4,864.5 L141.4,864.5 L141.5,864.5 L141.5,860.0 L141.5,864.5 L141.5,864.5 L143.9,864.5 L143.9,866.5 L147.7,866.5 L147.7,864.5 L151.9,864.5 L151.9,866.5 L157.8,866.5 L157.8,864.5 L161.4,864.5 L161.4,864.5 L161.5,864.5 L161.5,860.0 L161.5,864.5 L161.5,864.5 L166.1,864.5 L166.1,867.5 L168.4,867.5 L168.4,864.5 L172.5,864.5 L172.5,866.5 L174.3,866.5 L174.3,864.5 L177.0,864.5 L177.0,866.5 L178.7,866.5 L178.7,864.5 L181.4,864.5 L181.4,864.5 L181.5,864.5 L181.5,863.0 L181.5,864.5 L181.5,867.5 L184.5,867.5 L184.5,864.5 L186.4,864.5 L186.4,866.5 L191.2,866.5 L191.2,864.5 L195.4,864.5 L195.4,866.5 L201.4,866.5 L201.4,864.5 L201.5,864.5 L201.5,861.0 L201.5,864.5 L201.5,866.5 L204.4,866.5 L204.4,864.5 L209.8,864.5 L209.8,866.5 L213.3,866.5 L213.3,864.5 L216.7,864.5 L216.7,866.5 L221.4,866.5 L221.4,864.5 L221.5,864.5 L221.5,863.0 L221.5,864.5 L221.5,864.5 L223.3,864.5 L223.3,866.5 L226.6,866.5 L226.6,864.5 L230.2,864.5 L230.2,866.5 L234.6,866.5 L234.6,864.5 L239.4,864.5 L239.4,866.5 L241.4,866.5 L241.4,864.5 L241.5,864.5 L241.5,862.0 L241.5,864.5 L241.5,864.5 L243.6,864.5 L243.6,866.5 L246.3,866.5 L246.3,864.5 L248.1,864.5 L248.1,866.5 L253.6,866.5 L253.6,864.5 L257.9,864.5 L257.9,866.5 L261.4,866.5 L261.4,864.5 L261.5,864.5 L261.5,859.0 L261.5,864.5 L261.5,866.5 L264.9,866.5 L264.9,864.5 L271.4,864.5 L271.4,866.5 L272.9,866.5 L272.9,864.5 L279.2,864.5 L279.2,866.5 L281.4,866.5 L281.4,864.5 L281.5,864.5 L281.5,863.0 L281.5,864.5 L281.5,866.5 L287.3,866.5 L287.3,864.5 L289.3,864.5 L289.3,866.5 L295.7,866.5 L295.7,864.5 L298.5,864.5 L298.5,866.5 L301.4,866.5 L301.4,864.5 L301.5,864.5 L301.5,861.0 L301.5,864.5 L301.5,866.5 L304.0,866.5 L304.0,864.5 L305.6,864.5 L305.6,866.5 L309.0,866.5 L309.0,864.5 L311.1,864.5 L311.1,866.5 L315.5,866.5 L315.5,864.5 L317.7,864.5 L317.7,866.5 L321.1,866.5 L321.4,864.5 L321.5,864.5 L321.5,861.0 L321.5,864.5 L321.5,864.5 L324.2,864.5 L324.2,866.5 L326.7,866.5 L326.7,864.5 L332.9,864.5 L332.9,866.5 L335.4,866.5 L335.4,864.5 L341.3,864.5 L341.4,864.5 L341.5,864.5 L341.5,863.0 L341.5,864.5 L341.5,866.5 L343.5,866.5 L343.5,864.5 L346.3,864.5 L346.3,866.5 L351.5,866.5 L351.5,864.5 L355.1,864.5 L355.1,866.5 L361.1,866.5 L361.4,864.5 L361.5,864.5 L361.5,863.0 L361.5,864.5 L361.5,864.5 L363.3,864.5 L363.3,866.5 L366.0,866.5 L366.0,864.5 L371.7,864.5 L371.7,866.5 L376.3,866.5 L376.3,864.5 L381.4,864.5 L381.4,864.5 L381.5,864.5 L381.5,861.0 L381.5,864.5 L381.5,866.5 L385.1,866.5 L385.1,864.5 L386.8,864.5 L386.8,866.5 L389.7,866.5 L389.7,864.5 L396.1,864.5 L396.1,866.5 L398.0,866.5 L398.0,864.5 L401.4,864.5 L401.4,864.5 L401.5,864.5 L401.5,861.0 L401.5,864.5 L401.5,864.5 L405.9,864.5 L405.9,867.5 L408.1,867.5 L408.1,864.5 L409.7,864.5 L409.7,866.5 L415.8,866.5 L415.8,864.5 L421.4,864.5 L421.4,864.5 L421.5,864.5 L421.5,862.0 L421.5,864.5 L421.5,866.5 L423.3,866.5 L423.3,864.5 L425.5,864.5 L425.5,866.5 L427.4,866.5 L427.4,864.5 L430.7,864.5 L430.7,866.5 L432.4,866.5 L432.4,864.5 L437.6,864.5 L437.6,866.5 L439.8,866.5 L439.8,864.5 L441.4,864.5 L441.4,864.5 L441.5,864.5 L441.5,862.0 L441.5,864.5 L441.5,864.5 L447.4,864.5 L447.4,866.5 L450.9,866.5 L450.9,864.5 L456.8,864.5 L456.8,866.5 L461.1,866.5 L461.4,864.5 L461.5,864.5 L461.5,860.0 L461.5,864.5 L461.5,866.5 L463.4,866.5 L463.4,864.5 L465.4,864.5 L465.4,866.5 L468.2,866.5 L468.2,864.5 L471.4,864.5 L471.4,866.5 L477.5,866.5 L477.5,864.5 L481.3,864.5 L481.4,864.5 L481.5,864.5 L481.5,860.0 L481.5,864.5 L481.5,867.5 L486.8,867.5 L486.8,864.5 L491.3,864.5 L491.3,866.5 L495.2,866.5 L495.2,864.5 L500.2,864.5 L500.2,866.5 L501.4,866.5 L501.4,864.5 L501.5,864.5 L501.5,860.0 L501.5,864.5 L501.5,866.5 L504.5,866.5 L504.5,864.5 L507.0,864.5 L507.0,866.5 L509.4,866.5 L509.4,864.5 L514.2,864.5 L514.2,866.5 L517.9,866.5 L517.9,864.5 L521.0,864.5 L521.4,864.5 L521.5,864.5 L521.5,859.0 L521.5,864.5 L521.5,864.5 L527.0,864.5 L527.0,866.5 L532.3,866.5 L532.3,864.5 L534.9,864.5 L534.9,866.5 L537.5,866.5 L537.5,864.5 L540.0,864.5 L540.0,866.5 L541.4,866.5 L541.4,864.5 L541.5,864.5 L541.5,863.0 L541.5,864.5 L541.5,866.5 L547.9,866.5 L547.9,864.5 L550.0,864.5 L550.0,866.5 L553.8,866.5 L553.8,864.5 L559.5,864.5 L559.5,866.5 L561.4,866.5 L561.4,864.5 L561.5,864.5 L561.5,859.0 L561.5,864.5 L561.5,864.5 L567.9,864.5 L567.9,866.5 L571.7,866.5 L571.7,864.5 L573.3,864.5 L573.3,867.5 L579.2,867.5 L579.2,864.5 L581.4,864.5 L581.4,864.5 L581.5,864.5 L581.5,860.0 L581.5,864.5 L581.5,864.5 L585.8,864.5 L585.8,866.5 L590.5,866.5 L590.5,864.5 L593.0,864.5 L593.0,866.5 L598.3,866.5 L598.3,864.5 L601.4,864.5 L601.4,864.5 L601.5,864.5 L601.5,863.0 L601.5,864.5 L601.5,864.5 L605.2,864.5 L605.2,866.5 L609.9,866.5 L609.9,864.5 L615.4,864.5 L615.4,866.5 L621.4,866.5 L621.4,864.5 L621.5,864.5 L621.5,861.0 L621.5,864.5 L621.5,866.5 L626.6,866.5 L626.6,864.5 L630.7,864.5 L630.7,866.5 L632.4,866.5 L632.4,864.5 L637.8,864.5 L637.8,866.5 L641.4,866.5 L641.4,864.5 L641.5,864.5 L641.5,860.0 L641.5,864.5 L641.5,864.5 L645.0,864.5 L645.0,866.5 L650.4,866.5 L650.4,864.5 L652.4,864.5 L652.4,866.5 L658.5,866.5 L658.5,864.5 L660.7,864.5 L660.7,866.5 L661.4,866.5 L661.4,864.5 L661.5,864.5 L661.5,862.0 L661.5,864.5 L661.5,864.5 L667.4,864.5 L667.4,866.5 L672.9,866.5 L672.9,864.5 L676.7,864.5 L676.7,866.5 L681.4,866.5 L681.4,864.5 L681.5,864.5 L681.5,859.0 L681.5,864.5 L681.5,864.5 L687.6,864.5 L687.6,866.5 L689.7,866.5 L689.7,864.5 L693.2,864.5 L693.2,866.5 L695.1,866.5 L695.1,864.5 L701.4,864.5 L701.4,864.5 L701.5,864.5 L701.5,861.0 L701.5,864.5 L701.5,864.5 L703.1,864.5 L703.1,867.5 L707.1,867.5 L707.1,864.5 L710.3,864.5 L710.3,866.5 L713.9,866.5 L713.9,864.5 L720.0,864.5 L720.0,866.5 L721.4,866.5 L721.4,864.5 L721.5,864.5 L721.5,860.0 L721.5,864.5 L721.5,866.5 L724.7,866.5 L724.7,864.5 L726.9,864.5 L726.9,866.5 L729.1,866.5 L729.1,864.5 L734.2,864.5 L734.2,866.5 L739.9,866.5 L739.9,864.5 L741.4,864.5 L741.4,864.5 L741.5,864.5 L741.5,860.0 L741.5,864.5 L741.5,864.5 L746.8,864.5 L746.8,866.5 L750.5,866.5 L750.5,864.5 L756.1,864.5 L756.1,866.5 L760.4,866.5 L760.4,864.5 L761.4,864.5 L761.4,864.5 L761.5,864.5 L761.5,860.0 L761.5,864.5 L761.5,864.5 L767.8,864.5 L767.8,866.5 L773.6,866.5 L773.6,864.5 L776.6,864.5 L776.6,866.5 L778.9,866.5 L778.9,864.5 L781.4,864.5 L781.4,864.5 L781.5,864.5 L781.5,863.0 L781.5,864.5 L781.5,864.5 L785.5,864.5 L785.5,867.5 L790.0,867.5 L790.0,864.5 L796.4,864.5 L796.4,866.5 L800.5,866.5 L800.5,864.5 L801.4,864.5 L801.4,864.5 L801.5,864.5 L801.5,863.0 L801.5,864.5 L801.5,866.5 L803.8,866.5 L803.8,864.5 L807.6,864.5 L807.6,866.5 L813.7,866.5 L813.7,864.5 L817.3,864.5 L817.3,866.5 L820.0,866.5 L820.0,864.5 L821.4,864.5 L821.4,864.5 L821.5,864.5 L821.5,858.0 L821.5,864.5 L821.5,864.5 L825.6,864.5 L825.6,866.5 L827.7,866.5 L827.7,864.5 L829.3,864.5 L829.3,866.5 L832.1,866.5 L832.1,864.5 L838.5,864.5 L838.5,866.5 L840.2,866.5 L840.2,864.5 L841.4,864.5 L841.4,864.5 L841.5,864.5 L841.5,861.0 L841.5,864.5 L841.5,866.5 L846.1,866.5 L846.1,864.5 L851.3,864.5 L851.3,866.5 L853.4,866.5 L853.4,864.5 L856.1,864.5 L856.1,866.5 L858.6,866.5 L858.6,864.5 L861.4,864.5 L861.4,864.5 L861.5,864.5 L861.5,860.0 L861.5,864.5 L861.5,864.5 L866.1,864.5 L866.1,866.5 L870.3,866.5 L870.3,864.5 L874.4,864.5 L874.4,866.5 L877.0,866.5 L877.0,864.5 L881.2,864.5 L881.4,864.5 L881.5,864.5 L881.5,860.0 L881.5,864.5 L881.5,866.5 L886.7,866.5 L886.7,864.5 L892.7,864.5 L892.7,866.5 L895.8,866.5 L895.8,864.5 L901.4,864.5 L901.4,864.5 L901.5,864.5 L901.5,861.0 L901.5,864.5 L901.5,866.5 L903.5,866.5 L903.5,864.5 L905.6,864.5 L905.6,866.5 L907.6,866.5 L907.6,864.5 L911.3,864.5 L911.3,866.5 L917.5,866.5 L917.5,864.5 L921.4,864.5 L921.4,864.5 L921.5,864.5 L921.5,861.0 L921.5,864.5 L921.5,864.5 L923.1,864.5 L923.1,866.5 L925.6,866.5 L925.6,864.5 L931.7,864.5 L931.7,866.5 L938.0,866.5 L938.0,864.5 L941.4,864.5 L941.4,864.5 L941.5,864.5 L941.5,858.0 L941.5,864.5 L941.5,864.5 L947.2,864.5 L947.2,866.5 L952.7,866.5 L952.7,864.5 L954.3,864.5 L954.3,866.5 L959.6,866.5 L959.6,864.5 L961.4,864.5 L961.4,864.5 L961.5,864.5 L961.5,863.0 L961.5,864.5 L961.5,866.5 L964.0,866.5 L964.0,864.5 L970.5,864.5 L970.5,866.5 L976.6,866.5 L976.6,864.5 L978.4,864.5 L978.4,866.5 L981.4,866.5 L981.4,864.5 L981.5,864.5 L981.5,863.0 L981.5,864.5 L981.5,866.5 L985.1,866.5 L985.1,864.5 L987.7,864.5 L987.7,866.5 L991.0,866.5 L991.0,864.5 L992.8,864.5 L992.8,866.5 L995.3,866.5 L995.3,864.5 L998.6,864.5 L998.6,866.5 L1001.4,866.5 L1001.4,864.5 L1001.5,864.5 L1001.5,863.0 L1001.5,864.5 L1001.5,864.5 L1003.1,864.5 L1003.1,866.5 L1009.0,866.5 L1009.0,864.5 L1014.1,864.5 L1014.1,866.5 L1019.9,866.5 L1019.9,864.5 L1021.4,864.5 L1021.4,864.5 L1021.5,864.5 L1021.5,863.0 L1021.5,864.5 L1021.5,864.5 L1024.7,864.5 L1024.7,866.5 L1030.0,866.5 L1030.0,864.5 L1032.1,864.5 L1032.1,866.5 L1037.3,866.5 L1037.3,864.5 L1041.4,864.5 L1041.4,864.5 L1041.5,864.5 L1041.5,861.0 L1041.5,864.5 L1041.5,864.5 L1046.5,864.5 L1046.5,866.5 L1051.8,866.5 L1051.8,864.5 L1055.3,864.5 L1055.3,866.5 L1060.5,866.5 L1060.5,864.5 L1061.4,864.5 L1061.4,864.5 L1061.5,864.5 L1061.5,863.0 L1061.5,864.5 L1061.5,864.5 L1068.0,864.5 L1068.0,867.5 L1074.0,867.5 L1074.0,864.5 L1076.8,864.5 L1076.8,866.5 L1079.5,866.5 L1079.5,864.5" fill="none" stroke="#0000ff" stroke-width="1"/>
<path d="M120.0,864.5 L141.4,864.5 M141.4,864.5 L161.4,864.5 M161.4,864.5 L181.4,864.5 M181.4,864.5 L201.4,864.5 M201.4,864.5 L221.4,864.5 M221.4,864.5 L241.4,864.5 M241.4,864.5 L261.4,864.5 M261.4,864.5 L281.4,864.5 M281.4,864.5 L301.4,864.5 M301.4,864.5 L321.4,864.5 M321.4,864.5 L341.4,864.5 M341.4,864.5 L361.4,864.5 M361.4,864.5 L381.4,864.5 M381.4,864.5 L401.4,864.5 M401.4,864.5 L421.4,864.5 M421.4,864.5 L441.4,864.5 M441.4,864.5 L461.4,864.5 M461.4,864.5 L481.4,864.5 M481.4,864.5 L501.4,864.5 M501.4,864.5 L521.4,864.5 M521.4,864.5 L541.4,864.5 M541.4,864.5 L561.4,864.5 M561.4,864.5 L581.4,864.5 M581.4,864.5 L601.4,864.5 M601.4,864.5 L621.4,864.5 M621.4,864.5 L641.4,864.5 M641.4,864.5 L661.4,864.5 M661.4,864.5 L681.4,864.5 M681.4,864.5 L701.4,864.5 M701.4,864.5 L721.4,864.5 M721.4,864.5 L741.4,864.5 M741.4,864.5 L761.4,864.5 M761.4,864.5 L781.4,864.5 M781.4,864.5 L801.4,864.5 M801.4,864.5 L821.4,864.5 M821.4,864.5 L841.4,864.5 M841.4,864.5 L861.4,864.5 M861.4,864.5 L881.4,864.5 M881.4,864.5 L901.4,864.5 M901.4,864.5 L921.4,864.5 M921.4,864.5 L941.4,864.5 M941.4,864.5 L961.4,864.5 M961.4,864.5 L981.4,864.5 M981.4,864.5 L1001.4,864.5 M1001.4,864.5 L1021.4,864.5 M1021.4,864.5 L1041.4,864.5 M1041.4,864.5 L1061.4,864.5 M1061.4,864.5 L1079.5,864.5" fill="none" stroke="#ff00ff" stroke-width="3" stroke-dasharray="4.8 1.2"/>
<line x1="120" y1="1011.5" x2="1080" y2="1011.5" stroke="#fbaa33" stroke-width="3" stroke-dasharray="4.7 1.3"/>
<text x="599.5" y="711" font-size="22.9" fill="#000" text-anchor="middle" font-weight="bold" >7902003 : Dive History      Data Mode : R</text>
<text x="599.5" y="1136" font-size="23.4" fill="#262626" text-anchor="middle" >Days</text>
<text transform="translate(46 901) rotate(-90)" font-size="23.0" fill="#262626" text-anchor="middle" >Pressure [dbar]</text>
<text x="120" y="1182" font-size="16.7" fill="#000" text-anchor="start" >Argo WHOI 24-Nov-2025</text>
</svg>
</body></html>
